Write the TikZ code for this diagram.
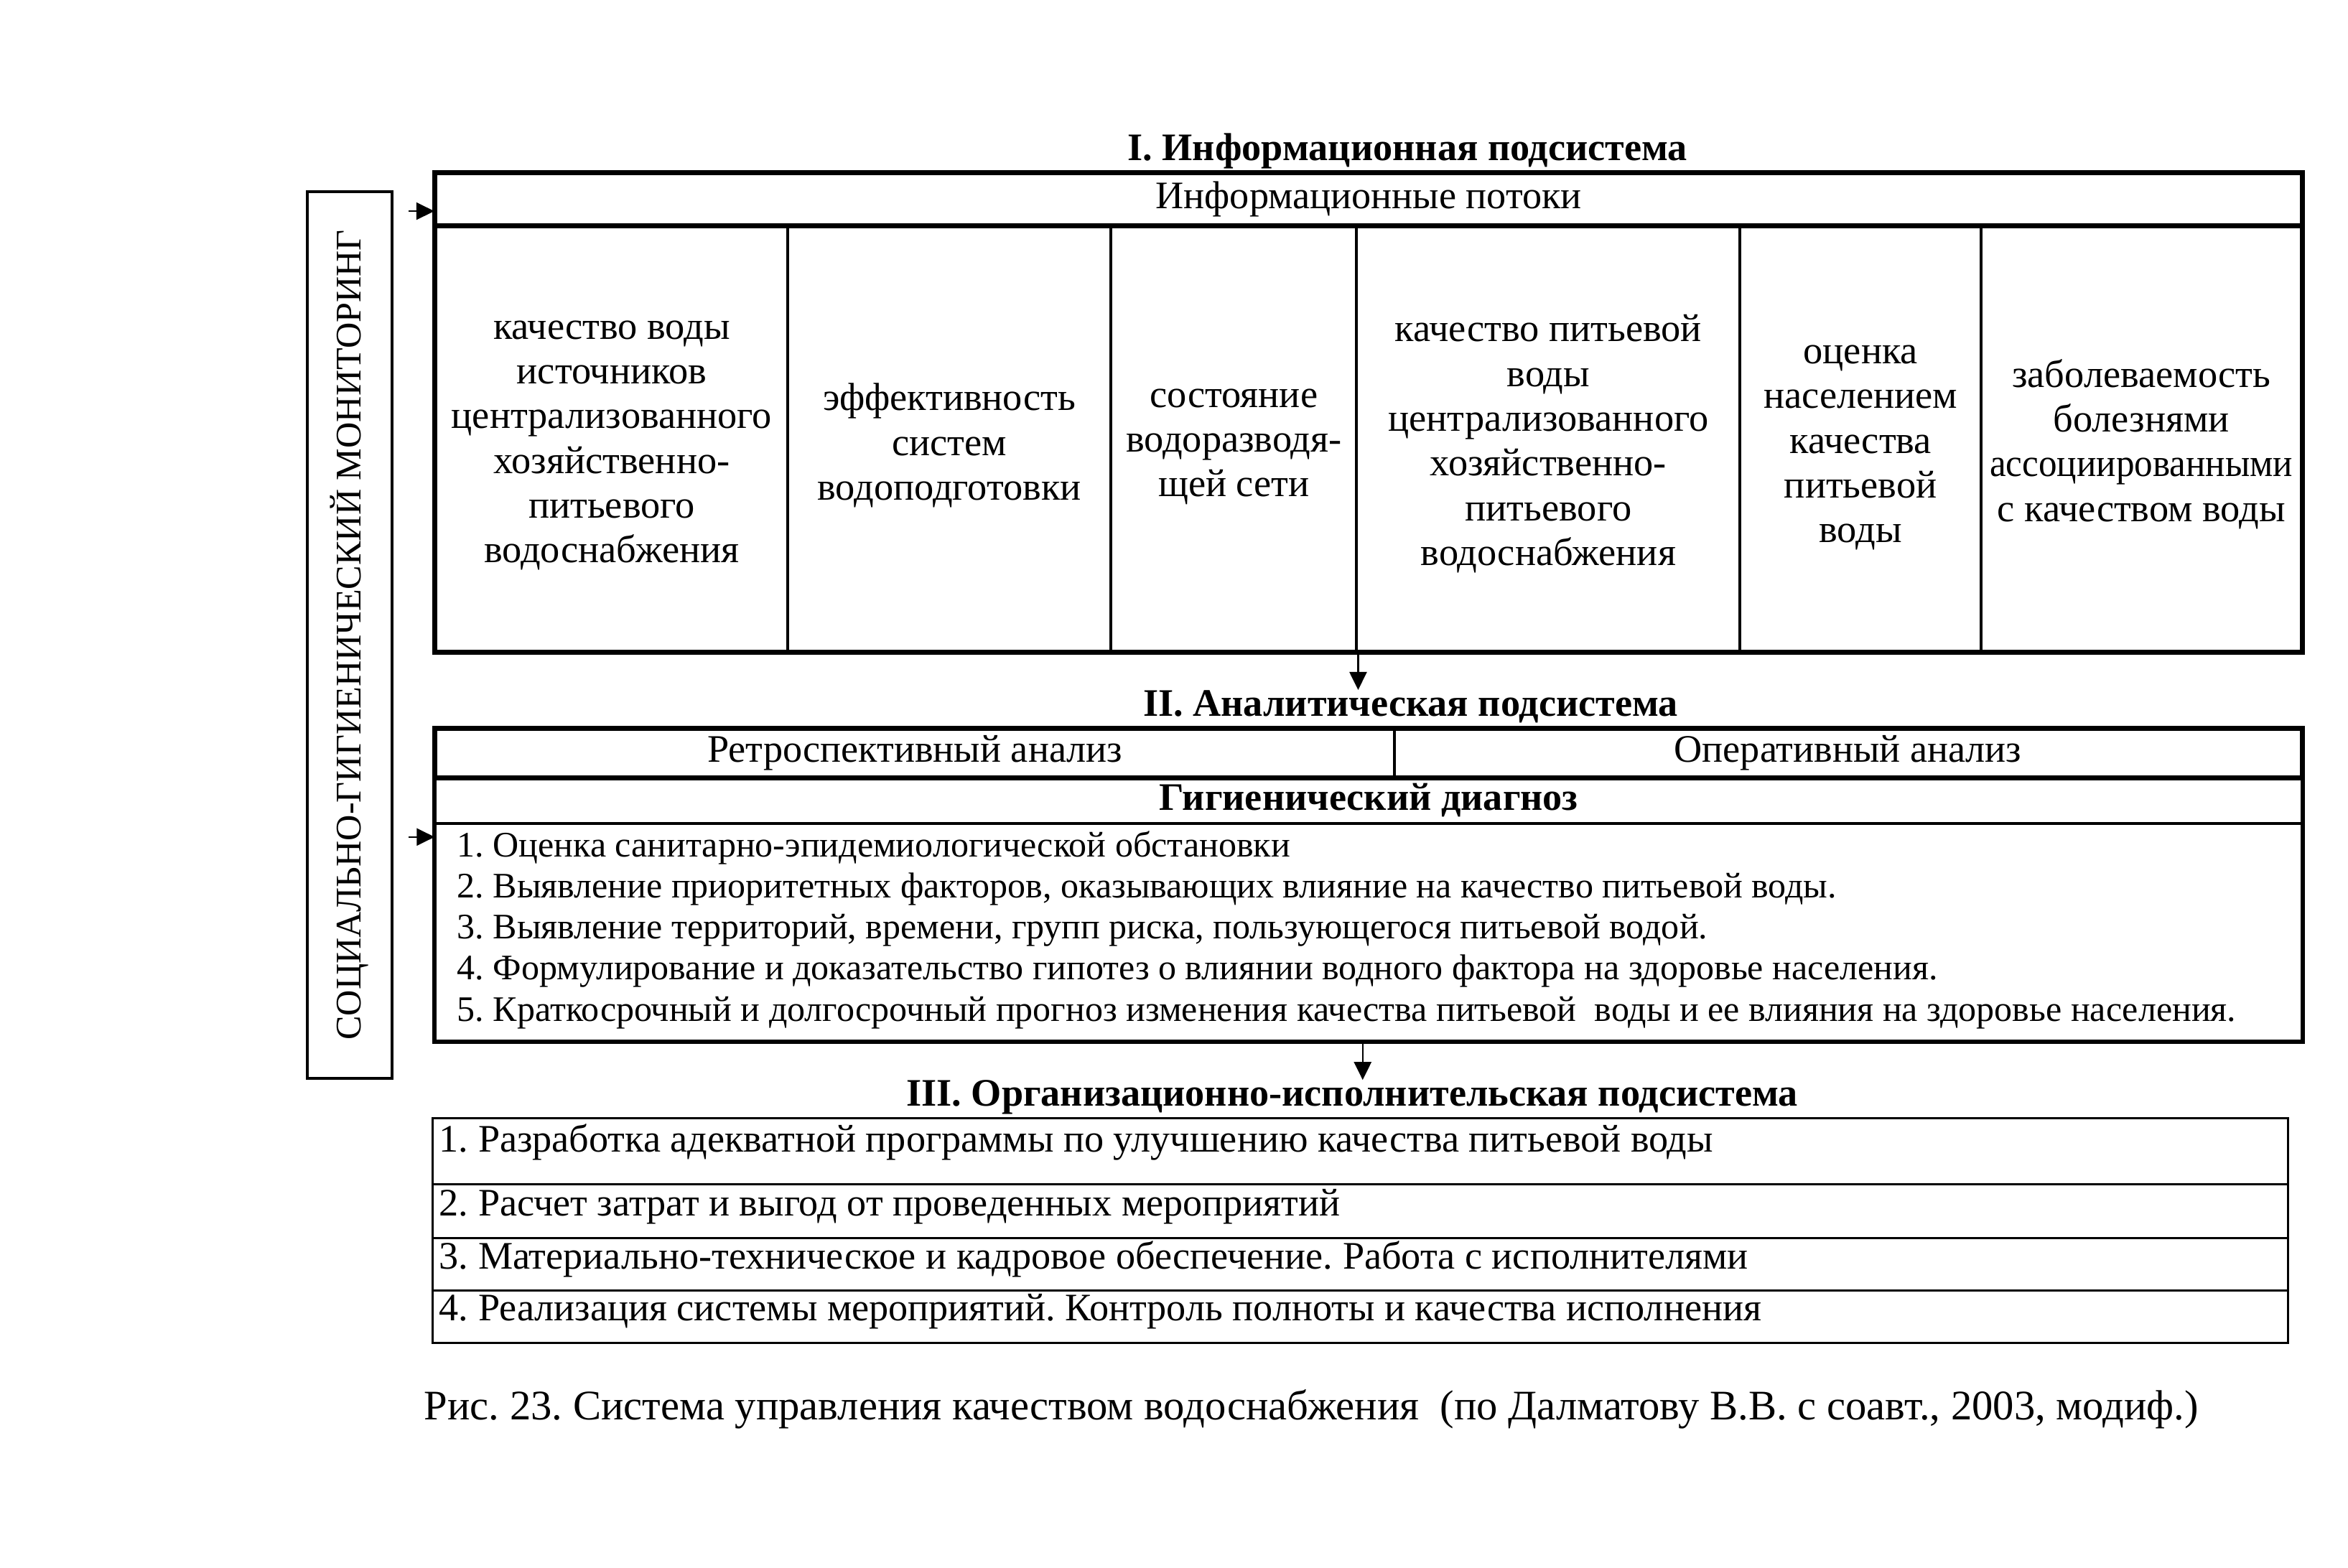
\documentclass[tikz,border=0pt]{standalone}
\usepackage{fontspec}
\usepackage{graphicx}
\setmainfont{Liberation Serif}
\usetikzlibrary{arrows.meta,positioning,calc}
\tikzset{
  every node/.style={font=\fontsize{14.8}{17}\selectfont,text=black},
  arr/.style={-{Triangle[length=2.4mm,width=2.3mm]},line width=.7pt},
  cell/.style={draw,line width=1.1pt,inner sep=0,minimum height=57mm},
  celltext/.style={align=center,inner sep=0,font=\fontsize{14.85}{17}\selectfont},
  frame/.style={draw,line width=1.6pt},
  row/.style={draw,line width=.85pt,inner sep=0,anchor=north west},
  item/.style={anchor=west,inner sep=0,font=\fontsize{13.65}{15.6}\selectfont},
  title/.style={font=\bfseries\fontsize{14.8}{17}\selectfont,inner sep=0}
}
\begin{document}
\frenchspacing
\begin{tikzpicture}[x=.2mm,y=-.2mm]
  \path[use as bounding box] (0,0) rectangle (1568,1047);

  % I. information subsystem
  \node[title] (t1) at (940,101) {I. Информационная подсистема};
  \node[draw,line width=1.1pt,minimum width=249.2mm,minimum height=6.8mm,inner sep=0] (flows) at (914,133) {Информационные потоки};
  \node[cell,minimum width=47mm] (c1) at (408.5,292.5) {};
  \node[cell,minimum width=43.2mm] (c2) at (634,292.5) {};
  \node[cell,minimum width=32.8mm] (c3) at (824,292.5) {};
  \node[cell,minimum width=51.2mm] (c4) at (1034,292.5) {};
  \node[cell,minimum width=32.2mm] (c5) at (1242.5,292.5) {};
  \node[cell,minimum width=42.8mm] (c6) at (1430,292.5) {};
  \node[celltext] at ([yshift=-1mm]c1.center) {качество воды\\источников\\централизованного\\хозяйственно-\\питьевого\\водоснабжения};
  \node[celltext] at ([yshift=-1mm]c2.center) {эффективность\\систем\\водоподготовки};
  \node[celltext] at ([yshift=-1.2mm]c3.center) {состояние\\водоразводя-\\щей сети};
  \node[celltext] at ([yshift=-.8mm]c4.center) {качество питьевой\\воды\\централизованного\\хозяйственно-\\питьевого\\водоснабжения};
  \node[celltext] at ([yshift=-1.3mm]c5.center) {оценка\\населением\\качества\\питьевой\\воды};
  \node[celltext] at ([yshift=-.8mm]c6.center) {заболеваемость\\болезнями\\\scalebox{.94}[1]{ассоциированными}\\с качеством воды};
  \draw[frame] (flows.north west) rectangle (c6.south east);
  \draw[frame] (flows.south west) -- (flows.south east);

  % II. analytical subsystem
  \node[title] (t2) at (942,472) {II. Аналитическая подсистема};
  \node[draw,line width=1.1pt,minimum width=128mm,minimum height=6.4mm,inner sep=0] (retro) at (611,503) {Ретроспективный анализ};
  \node[draw,line width=1.1pt,minimum width=121.2mm,minimum height=6.4mm,inner sep=0] (oper) at (1234,503) {Оперативный анализ};
  \node[draw,line width=.85pt,minimum width=249.2mm,minimum height=6.2mm,inner sep=0,font=\bfseries\fontsize{14.8}{17}\selectfont] (diag) at (914,534.5) {Гигиенический диагноз};
  \node[draw,line width=.85pt,minimum width=249.2mm,minimum height=29mm,inner sep=0] (tasks) at (914,622.5) {};
  \node[item,align=left] (list) at (305,621) {1. Оценка санитарно-эпидемиологической обстановки\\
    2. Выявление приоритетных факторов, оказывающих влияние на качество питьевой воды.\\
    3. Выявление территорий, времени, групп риска, пользующегося питьевой водой.\\
    4. Формулирование и доказательство гипотез о влиянии водного фактора на здоровье населения.\\
    5. Краткосрочный и долгосрочный прогноз изменения качества питьевой\ \ воды и ее влияния на здоровье населения.};
  \draw[frame] (retro.north west) rectangle (tasks.south east);
  \draw[frame] (retro.south west) -- (oper.south east);

  % III. organisational subsystem
  \node[title] (t3) at (903,733) {III. Организационно-исполнительская подсистема};
  \node[row,minimum width=247.8mm,minimum height=8.8mm] (r1) at (288,746) {};
  \node[row,minimum width=247.8mm,minimum height=7.2mm] (r2) at (288,790) {};
  \node[row,minimum width=247.8mm,minimum height=7mm] (r3) at (288,826) {};
  \node[row,minimum width=247.8mm,minimum height=7mm] (r4) at (288,861) {};
  \node[item,font=\fontsize{14.8}{17}\selectfont] at (293,763) {1. Разработка адекватной программы по улучшению качества питьевой воды};
  \node[item,font=\fontsize{14.8}{17}\selectfont] at (293,806) {2. Расчет затрат и выгод от проведенных мероприятий};
  \node[item,font=\fontsize{14.8}{17}\selectfont] at (293,841) {3. Материально-техническое и кадровое обеспечение. Работа с исполнителями};
  \node[item,font=\fontsize{14.8}{17}\selectfont] at (293,876) {4. Реализация системы мероприятий. Контроль полноты и качества исполнения};

  % monitoring
  \node[draw,line width=1.1pt,rotate=90,minimum width=118.4mm,minimum height=11.4mm,inner sep=0,font=\fontsize{13.7}{16}\selectfont] (monitor) at (233.5,424) {СОЦИАЛЬНО-ГИГИЕНИЧЕСКИЙ МОНИТОРИНГ};
  \coordinate (m1) at (273,141);
  \coordinate (m2) at (273,559);
  \draw[arr] (m1) -- (m1 -| flows.west);
  \draw[arr] (m2) -- (m2 -| tasks.west);
  \draw[arr] (c3.south east) -- (c3.south east |- t2.north);
  \draw[arr] (tasks.south -| 910,0) -- (910,0 |- t3.north);

  \node[anchor=west,inner sep=0,font=\fontsize{16}{19}\selectfont] (caption) at (283,941) {Рис. 23. Система управления качеством водоснабжения\ \ (по Далматову В.В. с соавт., 2003, модиф.)};
\end{tikzpicture}
\end{document}
